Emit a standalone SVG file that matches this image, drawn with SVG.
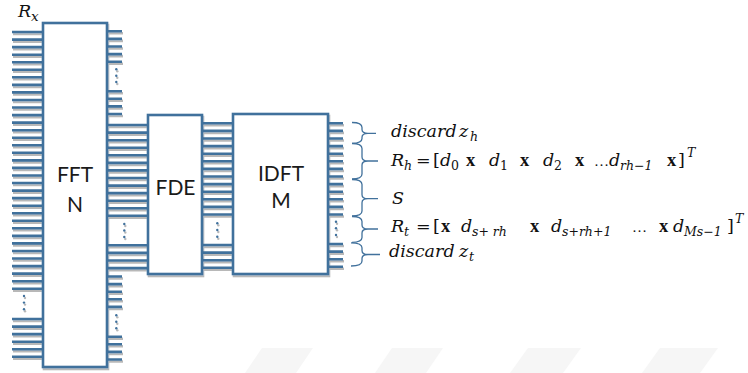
<svg xmlns="http://www.w3.org/2000/svg" width="748" height="373" viewBox="0 0 748 373">
<defs>
<filter id="sh" x="-5%" y="-5%" width="110%" height="110%">
<feOffset in="SourceAlpha" dx="0.8" dy="1.6" result="o"/>
<feComponentTransfer in="o" result="s"><feFuncA type="linear" slope="0.28"/></feComponentTransfer>
<feMerge><feMergeNode in="s"/><feMergeNode in="SourceGraphic"/></feMerge>
</filter>
<style>
.ln{stroke:#41719C;stroke-width:2.6;fill:none}
.bx{fill:#fff;stroke:#41719C;stroke-width:2.6}
.dot{fill:#41719C}
.br{fill:none;stroke:#41719C;stroke-width:1.3}
.lb{font-family:Lato,"Open Sans",sans-serif;font-size:21px;fill:#1a1a1a;text-anchor:middle}
.m{font-family:"DejaVu Serif","Liberation Serif",serif;font-style:italic;font-size:17.5px;fill:#111}
.s{font-size:12.5px}
.b{font-family:"Liberation Serif",serif;font-style:normal;font-weight:bold;font-size:18.5px}
.u{font-family:"DejaVu Serif","Liberation Serif",serif;font-style:normal}
.el{font-family:"Liberation Serif",serif;font-style:normal;font-size:15px}
.wm{fill:#f6f6f6}
</style>
</defs>
<rect width="748" height="373" fill="#fff"/>
<g id="watermark">
<polygon class="wm" points="262,348 313,348 296,373 245,373"/>
<polygon class="wm" points="392,348 443,348 426,373 375,373"/>
<polygon class="wm" points="528,348 581,348 563,373 510,373"/>
<polygon class="wm" points="660,348 718,348 700,373 642,373"/>
</g>
<g filter="url(#sh)">
<g id="connectors">
<path class="ln" d="M12,32H43M12,39.6H43M12,47.1H43M12,54.7H43M12,62.2H43M12,69.8H43M12,77.3H43M12,84.9H43M12,92.4H43M12,100H43M12,107.5H43M12,115.1H43M12,122.6H43M12,130.2H43M12,137.7H43M12,145.3H43M12,152.8H43M12,160.4H43M12,167.9H43M12,175.5H43M12,183H43M12,190.6H43M12,198.1H43M12,205.7H43M12,213.2H43M12,220.8H43M12,228.3H43M12,235.9H43M12,243.4H43M12,251H43M12,258.5H43M12,266.1H43M12,273.6H43M12,281.2H43M12,288.7H43M12,319H43M12,326.6H43M12,334.1H43M12,341.7H43M12,349.2H43M12,356.8H43"/>
<path class="ln" d="M107,31.3H122M107,38.9H122M107,46.5H122M107,54.1H122M107,61.7H122M107,91.2H122M107,98.8H122M107,106.4H122M107,114H122M107,276.5H122M107,284.1H122M107,291.7H122M107,299.3H122M107,306.9H122M107,336.7H122M107,344.3H122M107,351.9H122M107,359.5H122"/>
<path class="ln" d="M107,125H148M107,132.6H148M107,140.2H148M107,147.7H148M107,155.3H148M107,162.9H148M107,170.4H148M107,178H148M107,185.6H148M107,193.1H148M107,200.7H148M107,208.3H148M107,215.8H148M107,245.3H148M107,252.9H148M107,260.5H148M107,268.1H148"/>
<path class="ln" d="M202,123.3H233M202,130.9H233M202,138.5H233M202,146.1H233M202,153.7H233M202,161.3H233M202,168.9H233M202,176.5H233M202,184.1H233M202,191.7H233M202,199.3H233M202,206.9H233M202,214.5H233M202,245H233M202,252.6H233M202,260.2H233M202,267.8H233"/>
<path class="ln" d="M328,123.3H343M328,130.9H343M328,138.5H343M328,146.1H343M328,153.7H343M328,161.3H343M328,168.9H343M328,176.5H343M328,184.1H343M328,191.7H343M328,199.3H343M328,206.9H343M328,214.5H343M328,244H343M328,251.6H343M328,259.2H343M328,266.8H343"/>
<g class="dot">
<circle cx="24" cy="296" r="1.2"/><circle cx="24" cy="302.6" r="1.2"/><circle cx="24" cy="309.2" r="1.2"/>
<circle cx="116.3" cy="69.3" r="1.2"/><circle cx="116.3" cy="75.7" r="1.2"/><circle cx="116.3" cy="82" r="1.2"/>
<circle cx="124.3" cy="224" r="1.2"/><circle cx="124.3" cy="230.5" r="1.2"/><circle cx="124.3" cy="237" r="1.2"/>
<circle cx="116.3" cy="315.3" r="1.2"/><circle cx="116.3" cy="321.8" r="1.2"/><circle cx="116.3" cy="328.3" r="1.2"/>
<circle cx="217.3" cy="223.3" r="1.2"/><circle cx="217.3" cy="230" r="1.2"/><circle cx="217.3" cy="236.7" r="1.2"/>
<circle cx="336" cy="221.7" r="1.2"/><circle cx="336" cy="228.3" r="1.2"/><circle cx="336" cy="235" r="1.2"/>
</g>
</g>
<g id="fft"><rect class="bx" x="43" y="23" width="64" height="344"/></g>
<g id="fde"><rect class="bx" x="148" y="115" width="54" height="159"/></g>
<g id="idft"><rect class="bx" x="233" y="114" width="95" height="160"/></g>
</g>
<text class="lb" x="75" y="181.7">FFT</text>
<text class="lb" x="75" y="211.7">N</text>
<text class="lb" x="175.5" y="195">FDE</text>
<text class="lb" x="281" y="181">IDFT</text>
<text class="lb" x="281" y="208.3">M</text>
<text class="m"><tspan x="18" y="17" font-size="17.5">R</tspan><tspan x="31" y="21" font-size="13.5">x</tspan></text>
<g id="braces">
<path class="br" d="M352,122.5Q362,122.5 362,127.5V129.5Q362,133.3 368,133.3H376M368,133.3Q362,133.3 362,137.3V138.5Q362,143.3 352,143.3"/>
<path class="br" d="M352,143.5Q362,143.5 362,148.5V157Q362,161 368,161H378M368,161Q362,161 362,165V174Q362,179 352,179"/>
<path class="br" d="M352,179.5Q362,179.5 362,184.5V194.7Q362,198.7 368,198.7H378M368,198.7Q362,198.7 362,202.7V211Q362,216 352,216"/>
<path class="br" d="M352,216.5Q362,216.5 362,221.5V225Q362,229 368,229H378M368,229Q362,229 362,233V237.5Q362,242.3 352,242.3"/>
<path class="br" d="M351,242.8Q362,242.8 362,247.8V250.5Q362,254.5 368,254.5H380M368,254.5Q362,254.5 362,258.5V261Q362,266 351,266"/>
</g>
<g id="labels">
<text class="m"><tspan x="391" y="137">discard</tspan><tspan x="459" y="137">z</tspan><tspan class="s" x="470" y="141">h</tspan></text>
<text class="m">
<tspan x="391" y="166">R</tspan><tspan class="s" x="404" y="170">h</tspan>
<tspan class="u" x="416" y="166">=</tspan><tspan class="u" x="433" y="166">[</tspan>
<tspan x="440" y="166">d</tspan><tspan class="s u" x="451" y="170">0</tspan>
<tspan class="b" x="466" y="166">x</tspan>
<tspan x="489" y="166">d</tspan><tspan class="s u" x="500" y="170">1</tspan>
<tspan class="b" x="520" y="166">x</tspan>
<tspan x="543" y="166">d</tspan><tspan class="s u" x="554" y="170">2</tspan>
<tspan class="b" x="575" y="166">x</tspan>
<tspan class="el" x="594" y="166">…</tspan>
<tspan x="609" y="166">d</tspan><tspan class="s" x="620" y="170">rh−1</tspan>
<tspan class="b" x="667" y="166">x</tspan><tspan class="u" x="678" y="166">]</tspan>
<tspan class="s" x="687" y="157">T</tspan>
</text>
<text class="m"><tspan x="392" y="204">S</tspan></text>
<text class="m">
<tspan x="391" y="232">R</tspan><tspan class="s" x="404" y="236">t</tspan>
<tspan class="u" x="416" y="232">=</tspan><tspan class="u" x="433" y="232">[</tspan>
<tspan class="b" x="441" y="232">x</tspan>
<tspan x="461" y="232">d</tspan><tspan class="s" x="472" y="236">s+ rh</tspan>
<tspan class="b" x="530" y="232">x</tspan>
<tspan x="551" y="232">d</tspan><tspan class="s" x="562" y="236">s+rh+1</tspan>
<tspan class="el" x="632" y="232">…</tspan>
<tspan class="b" x="659" y="232">x</tspan>
<tspan x="673" y="232">d</tspan><tspan class="s" x="684" y="236">Ms−1</tspan>
<tspan class="u" x="727" y="232">]</tspan>
<tspan class="s" x="735" y="223">T</tspan>
</text>
<text class="m"><tspan x="389" y="257">discard</tspan><tspan x="459" y="257">z</tspan><tspan class="s" x="469" y="261">t</tspan></text>
</g>
</svg>
